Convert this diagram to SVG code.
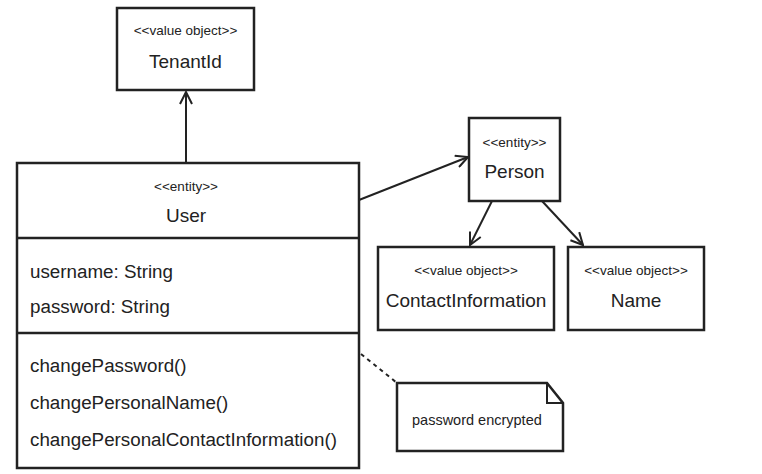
<svg xmlns="http://www.w3.org/2000/svg" width="762" height="474" viewBox="0 0 762 474">
<style>
.box{fill:#fff;stroke:#222;stroke-width:2.5}
.ln{fill:none;stroke:#222;stroke-width:2}
.st{font-family:"Liberation Sans",Arial,sans-serif;font-size:13.5px;fill:#222;text-anchor:middle}
.nm{font-family:"Liberation Sans",Arial,sans-serif;font-size:19px;fill:#222;text-anchor:middle}
.mb{font-family:"Liberation Sans",Arial,sans-serif;font-size:18.8px;fill:#222}
.nt{font-family:"Liberation Sans",Arial,sans-serif;font-size:14.5px;fill:#222}
</style>
<defs>
<marker id="open" viewBox="0 0 14 14" refX="13" refY="7" markerWidth="14" markerHeight="14" markerUnits="userSpaceOnUse" orient="auto">
<polyline points="1,1 13,7 1,13" fill="none" stroke="#222" stroke-width="2"/>
</marker>
</defs>
<rect width="762" height="474" fill="#fff"/>
<g id="connectors">
<line class="ln" x1="186" y1="163" x2="186" y2="92" marker-end="url(#open)"/>
<line class="ln" x1="359" y1="200" x2="468" y2="157" marker-end="url(#open)"/>
<line class="ln" x1="492" y1="201" x2="470" y2="245" marker-end="url(#open)"/>
<line class="ln" x1="542" y1="201" x2="583" y2="245" marker-end="url(#open)"/>
<line class="ln" x1="361" y1="354" x2="397" y2="383" stroke-dasharray="4,4"/>
</g>
<g id="tenantid">
<rect class="box" x="117" y="8" width="137" height="82"/>
<text class="st" x="185.5" y="35">&lt;&lt;value object&gt;&gt;</text>
<text class="nm" x="185.5" y="68">TenantId</text>
</g>
<g id="user">
<rect class="box" x="17" y="163" width="342" height="305"/>
<line class="box" x1="17" y1="238" x2="359" y2="238"/>
<line class="box" x1="17" y1="333" x2="359" y2="333"/>
<text class="st" x="186" y="191">&lt;&lt;entity&gt;&gt;</text>
<text class="nm" x="186" y="222">User</text>
<text class="mb" x="30" y="278">username: String</text>
<text class="mb" x="30" y="313">password: String</text>
<text class="mb" x="30" y="372">changePassword()</text>
<text class="mb" x="30" y="409">changePersonalName()</text>
<text class="mb" x="30" y="446">changePersonalContactInformation()</text>
</g>
<g id="person">
<rect class="box" x="469" y="118" width="91" height="83"/>
<text class="st" x="514.5" y="147">&lt;&lt;entity&gt;&gt;</text>
<text class="nm" x="514.5" y="178">Person</text>
</g>
<g id="contactinformation">
<rect class="box" x="378" y="247" width="176" height="83"/>
<text class="st" x="466" y="275">&lt;&lt;value object&gt;&gt;</text>
<text class="nm" x="466" y="307">ContactInformation</text>
</g>
<g id="name">
<rect class="box" x="568" y="247" width="136" height="83"/>
<text class="st" x="636" y="275">&lt;&lt;value object&gt;&gt;</text>
<text class="nm" x="636" y="307">Name</text>
</g>
<g id="note">
<path class="box" d="M397,383 H547 L563,403 V451 H397 Z"/>
<path class="ln" d="M547,383 V403 H563"/>
<text class="nt" x="412" y="425">password encrypted</text>
</g>
</svg>
